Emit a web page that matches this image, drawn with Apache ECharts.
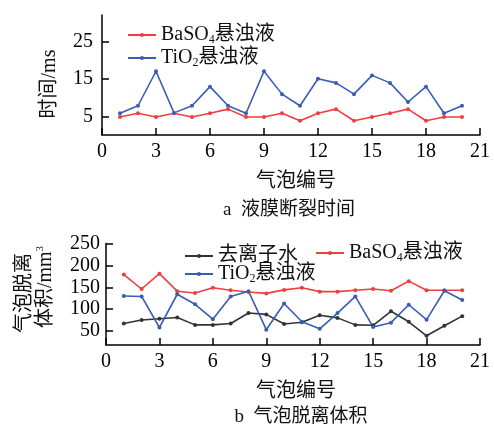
<!DOCTYPE html>
<html><head><meta charset="utf-8">
<script src="https://cdn.jsdelivr.net/npm/echarts@6/dist/echarts.min.js"></script>
<style>html,body{margin:0;padding:0;background:#fff}#c{width:494px;height:425px}</style>
</head><body><div id="c"></div>
<script>
const bubbleIds = [1,2,3,4,5,6,7,8,9,10,11,12,13,14,15,16,17,18,19,20];
const xTicks = [0,3,6,9,12,15,18,21];
// (a) film rupture time, ms
const timeBaSO4 = [4.8,5.8,4.8,5.8,4.8,5.8,6.9,4.8,4.8,5.8,3.8,5.8,6.9,3.8,4.8,5.8,6.9,3.8,4.8,4.8];
const timeTiO2  = [5.8,7.8,17,5.9,7.8,12.9,7.8,5.8,17,10.9,7.8,15,13.9,10.9,15.9,13.9,8.8,12.9,5.8,7.8];
const timeTicks = [5,15,25];
// (b) bubble detachment volume, mm3
const volWater = [67,75,78,81,64,64,67,91,88,66,70,86,80,64,63,95,71,39,62,84];
const volBaSO4 = [179,146,181,141,137,149,143,139,136,144,149,140,140,143,146,142,164,143,143,143];
const volTiO2  = [130,129,58,134,111,77,129,141,53,113,71,55,91,129,59,69,110,76,142,121];
const volTicks = [50,100,150,200,250];

const FONT = '"Liberation Serif","Noto Sans CJK SC",serif';
const RED = '#ef3e3e', BLUE = '#3a5cb4', BLACK = '#333333';
const pts = arr => bubbleIds.map((x,i)=>[x, arr[i]]);

const rich = {
  a:{fontFamily:FONT,fontSize:20,color:'#111',lineHeight:22},
  s:{fontFamily:FONT,fontSize:12,color:'#111',lineHeight:22,verticalAlign:'bottom',padding:[8,0,0,0]}
};
const fmt = n => n.indexOf('BaSO4')===0 ? '{a|BaSO}{s|4}{a|悬浊液}' :
                 n.indexOf('TiO2')===0 ? '{a|TiO}{s|2}{a|悬浊液}' : '{a|'+n+'}';

function xAxis(gi){
  return {gridIndex:gi,type:'value',min:0,max:21,interval:3,
    axisLine:{lineStyle:{color:'#000',width:1.5}},
    axisTick:{inside:true,length:7,lineStyle:{color:'#000',width:1.5}},
    axisLabel:{color:'#000',fontFamily:FONT,fontSize:20,margin:7},
    splitLine:{show:false}};
}
function yAxis(gi,min,max,ticks,margin){
  return {gridIndex:gi,type:'value',min:min,max:max,
    axisLine:{show:true,lineStyle:{color:'#000',width:1.5}},
    axisTick:{show:true,inside:true,length:7,customValues:ticks,lineStyle:{color:'#000',width:1.5}},
    axisLabel:{color:'#000',fontFamily:FONT,fontSize:20,margin:margin,customValues:ticks},
    splitLine:{show:false}};
}
function line(name,gi,data,color){
  return {name:name,type:'line',xAxisIndex:gi,yAxisIndex:gi,data:data,
    symbol:'circle',symbolSize:4,lineStyle:{color:color,width:1.6},itemStyle:{color:color}};
}

const chart = echarts.init(document.getElementById('c'));
chart.setOption({
  animation:false,
  grid:[
    {left:102,right:14,top:15,height:120},
    {left:106,right:14,top:243.5,height:101.5}
  ],
  xAxis:[xAxis(0),xAxis(1)],
  yAxis:[yAxis(0,0,32,timeTicks,9),yAxis(1,18,250,volTicks,6)],
  legend:[
    {left:122,top:20,orient:'vertical',itemGap:2,itemWidth:28,itemHeight:5,
     data:['BaSO4悬浊液','TiO2悬浊液'],formatter:fmt,textStyle:{rich:rich}},
    {left:179,top:241,orient:'vertical',itemGap:-2,itemWidth:28,itemHeight:5,
     data:['去离子水','TiO2悬浊液 '],formatter:fmt,textStyle:{rich:rich}},
    {left:310,top:238,orient:'vertical',itemWidth:28,itemHeight:5,
     data:['BaSO4悬浊液 '],formatter:fmt,textStyle:{rich:rich}}
  ],
  series:[
    line('BaSO4悬浊液',0,pts(timeBaSO4),RED),
    line('TiO2悬浊液',0,pts(timeTiO2),BLUE),
    line('去离子水',1,pts(volWater),BLACK),
    line('BaSO4悬浊液 ',1,pts(volBaSO4),RED),
    line('TiO2悬浊液 ',1,pts(volTiO2),BLUE)
  ],
  graphic:[
    {type:'text',x:50,y:84,rotation:Math.PI/2,style:{text:'时间/ms',font:'20px '+FONT,fill:'#111',textAlign:'center',textVerticalAlign:'middle'}},
    {type:'text',x:25,y:293,rotation:Math.PI/2,style:{text:'气泡脱离',font:'20px '+FONT,fill:'#111',textAlign:'center',textVerticalAlign:'middle'}},
    {type:'text',x:46,y:287,rotation:Math.PI/2,style:{text:'{a|体积/mm}{u|3}',textAlign:'center',textVerticalAlign:'middle',
      rich:{a:{fontFamily:FONT,fontSize:20,fill:'#111',lineHeight:22},u:{fontFamily:FONT,fontSize:11,fill:'#111',lineHeight:22,verticalAlign:'top'}}}},
    {type:'text',x:296,y:182,style:{text:'气泡编号',font:'20px '+FONT,fill:'#111',textAlign:'center',textVerticalAlign:'middle'}},
    {type:'text',x:289,y:210,style:{text:'a  液膜断裂时间',font:'19px '+FONT,fill:'#111',textAlign:'center',textVerticalAlign:'middle'}},
    {type:'text',x:296,y:392,style:{text:'气泡编号',font:'20px '+FONT,fill:'#111',textAlign:'center',textVerticalAlign:'middle'}},
    {type:'text',x:301,y:417,style:{text:'b  气泡脱离体积',font:'19px '+FONT,fill:'#111',textAlign:'center',textVerticalAlign:'middle'}}
  ]
});
</script></body></html>
